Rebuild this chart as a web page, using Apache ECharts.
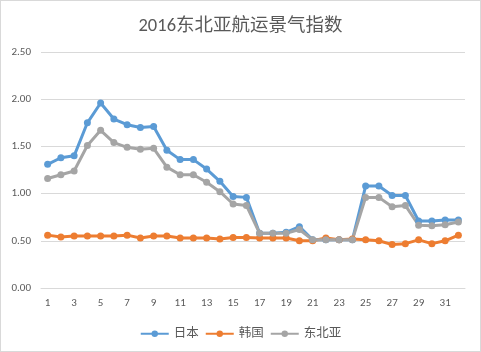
<!DOCTYPE html>
<html>
<head>
<meta charset="utf-8">
<script src="https://cdn.jsdelivr.net/npm/echarts@6/dist/echarts.min.js"></script>
<style>
  html, body { margin: 0; padding: 0; background: #fff; }
  #chart { width: 479px; height: 350px; border: 1px solid #d9d9d9; }
</style>
</head>
<body>
<div id="chart"></div>
<script>
// x categories: weeks 1..32
const weeks = []
for (let i = 1; i <= 32; i++) weeks.push(String(i))

const japan = [1.31, 1.38, 1.40, 1.75, 1.96, 1.79, 1.73, 1.70, 1.71, 1.46, 1.36, 1.36, 1.26, 1.13, 0.97, 0.96,
  0.58, 0.58, 0.59, 0.65, 0.51, 0.51, 0.51, 0.51, 1.08, 1.08, 0.98, 0.98, 0.71, 0.71, 0.72, 0.72]
const korea = [0.56, 0.54, 0.55, 0.55, 0.55, 0.55, 0.56, 0.53, 0.55, 0.55, 0.53, 0.53, 0.53, 0.52, 0.535, 0.535,
  0.53, 0.53, 0.53, 0.50, 0.50, 0.53, 0.51, 0.52, 0.51, 0.50, 0.46, 0.47, 0.51, 0.47, 0.50, 0.56]
const northeastAsia = [1.16, 1.20, 1.24, 1.51, 1.67, 1.54, 1.49, 1.47, 1.48, 1.28, 1.20, 1.20, 1.12, 1.02, 0.89, 0.875,
  0.58, 0.58, 0.58, 0.62, 0.51, 0.51, 0.51, 0.51, 0.96, 0.96, 0.86, 0.875, 0.665, 0.66, 0.67, 0.70]

const textColor = '#595959'
const font = 'Calibri, "Liberation Sans", "Noto Sans CJK SC", sans-serif'

function lineSeries(name, data, color) {
  return {
    name: name,
    type: 'line',
    data: data,
    symbol: 'circle',
    symbolSize: 7,
    lineStyle: { width: 3, color: color },
    itemStyle: { color: color },
  }
}

const myChart = echarts.init(document.getElementById('chart'))
myChart.setOption({
  animation: false,
  color: ['#5B9BD5', '#ED7D31', '#A5A5A5'],
  title: {
    text: '2016东北亚航运景气指数',
    left: 'center',
    top: 11,
    textStyle: { fontSize: 18.5, fontWeight: 'normal', color: textColor, fontFamily: font },
  },
  legend: {
    data: ['日本', '韩国', '东北亚'],
    bottom: 6,
    left: 'center',
    itemWidth: 28,
    itemHeight: 8,
    itemGap: 6,
    textStyle: { fontSize: 12.5, color: textColor, fontFamily: font },
  },
  grid: {
    left: 40,
    right: 15,
    top: 51,
    bottom: 63,
  },
  xAxis: {
    type: 'category',
    data: weeks,
    boundaryGap: true,
    axisLine: { lineStyle: { color: '#d9d9d9' } },
    axisTick: { show: false },
    axisLabel: { interval: 1, color: textColor, fontSize: 11, fontFamily: font, margin: 10 },
  },
  yAxis: {
    type: 'value',
    min: 0,
    max: 2.5,
    interval: 0.5,
    axisLine: { show: false },
    axisTick: { show: false },
    axisLabel: {
      color: textColor, fontSize: 11, fontFamily: font, margin: 10,
      formatter: (v) => v.toFixed(2),
    },
    splitLine: { lineStyle: { color: '#d9d9d9' } },
  },
  series: [
    lineSeries('日本', japan, '#5B9BD5'),
    lineSeries('韩国', korea, '#ED7D31'),
    lineSeries('东北亚', northeastAsia, '#A5A5A5'),
  ],
})
</script>
</body>
</html>
